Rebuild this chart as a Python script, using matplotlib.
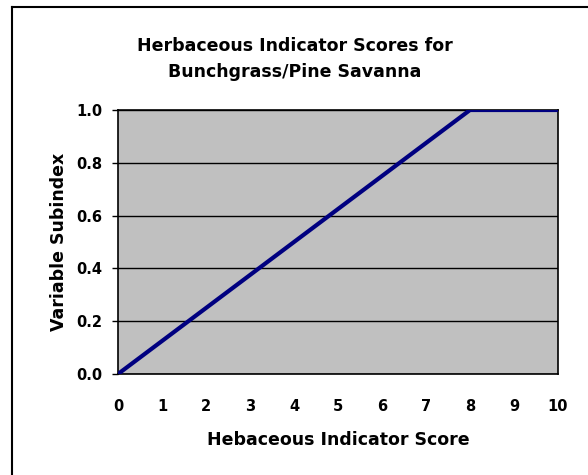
import matplotlib
matplotlib.use("Agg")
import matplotlib.pyplot as plt
from matplotlib.lines import Line2D

# Data
x_scores = [0, 8, 10]
subindex = [0.0, 1.0, 1.0]
x_ticks = [0, 1, 2, 3, 4, 5, 6, 7, 8, 9, 10]
y_ticks = [0.0, 0.2, 0.4, 0.6, 0.8, 1.0]
y_tick_labels = ["0.0", "0.2", "0.4", "0.6", "0.8", "1.0"]
title = "Herbaceous Indicator Scores for\nBunchgrass/Pine Savanna"
xlabel = "Hebaceous Indicator Score"
ylabel = "Variable Subindex"

plt.rcParams['font.family'] = ['DejaVu Sans']

W, H = 588, 475
fig = plt.figure(figsize=(W / 100, H / 100), dpi=100)
fig.patch.set_facecolor("white")

ax = fig.add_axes([118 / W, 1 - 374 / H, 440 / W, 264 / H])
ax.set_facecolor("#C0C0C0")

ax.plot(x_scores, subindex, color="#000080", lw=3, solid_capstyle="butt", zorder=3)

ax.set_xlim(0, 10)
ax.set_ylim(0, 1.0)
ax.set_xticks(x_ticks)
ax.set_xticklabels([str(t) for t in x_ticks], fontsize=10.5, fontweight="bold")
ax.set_yticks(y_ticks)
ax.set_yticklabels(y_tick_labels, fontsize=10.5, fontweight="bold")
ax.tick_params(axis="x", length=0, pad=18)
ax.tick_params(axis="y", length=4.5, width=1, pad=7, direction="out")
ax.set_xticks([0, 10], minor=True)
ax.tick_params(axis="x", which="minor", length=4.5, width=1, direction="out")

ax.yaxis.grid(True, color="black", lw=1)
ax.set_axisbelow(True)
for s in ax.spines.values():
    s.set_color("black")
    s.set_linewidth(1.2)

ax.set_xlabel(xlabel, fontsize=12.5, fontweight="bold", va="center")
ax.xaxis.set_label_coords(338 / W, 1 - 440 / H, transform=fig.transFigure)
ax.set_ylabel(ylabel, fontsize=12.5, fontweight="bold", va="center")
ax.yaxis.set_label_coords(59 / W, 1 - 242 / H, transform=fig.transFigure)

fig.text(295 / W, 1 - 59 / H, title, ha="center", va="center", fontsize=12.5,
         fontweight="bold", linespacing=1.55)

# figure border (top and left)
fig.add_artist(Line2D([12 / W, 1.0], [1 - 7 / H, 1 - 7 / H], transform=fig.transFigure, color="black", lw=1.5))
fig.add_artist(Line2D([12 / W, 12 / W], [0, 1 - 7 / H], transform=fig.transFigure, color="black", lw=1.5))

fig.savefig("out.png", dpi=100)
